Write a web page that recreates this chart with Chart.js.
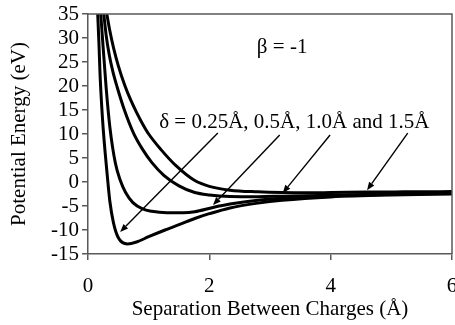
<!DOCTYPE html>
<html>
<head>
<meta charset="utf-8">
<script src="https://cdn.jsdelivr.net/npm/chart.js@4/dist/chart.umd.min.js"></script>
<style>
  html, body { margin: 0; padding: 0; background: #fff; }
  #wrap { width: 455px; height: 325px; overflow: hidden; }
</style>
</head>
<body>
<div id="wrap"><canvas id="chart" width="455" height="325"></canvas></div>
<script>
// values (x in Å, y in eV)
const seriesLabels = ["δ = 0.25Å", "δ = 0.5Å", "δ = 1.0Å", "δ = 1.5Å"];

const xA = [0.16, 0.18, 0.2, 0.24, 0.28, 0.32, 0.36, 0.42, 0.5, 0.65, 0.8, 1.0, 1.27, 1.5, 1.76, 2.0, 2.34, 2.8, 3.2, 4.0, 5.0, 6.0];
const yA = [35, 29, 22, 13, 6.5, 1, -4, -8.5, -11.6, -12.9, -12.5, -11.4, -10, -8.9, -7.6, -6.6, -5.4, -4.4, -3.8, -3.1, -2.7, -2.5];

const xB = [0.21, 0.25, 0.3, 0.36, 0.45, 0.53, 0.62, 0.74, 0.9, 1.05, 1.3, 1.57, 1.76, 2.06, 2.34, 2.8, 3.2, 4.0, 5.0, 6.0];
const yB = [35, 28, 19.5, 11.5, 4, 0.4, -2.2, -4.3, -5.6, -6.1, -6.4, -6.4, -6.2, -5.3, -4.6, -3.8, -3.4, -2.9, -2.6, -2.4];

const xC = [0.26, 0.3, 0.35, 0.41, 0.48, 0.6, 0.75, 0.9, 1.05, 1.25, 1.5, 1.76, 2.0, 2.34, 2.8, 3.2, 4.0, 5.0, 6.0];
const yC = [35, 30.5, 26.5, 23, 19.8, 15, 10.2, 6.8, 4.1, 1.4, -0.8, -2.2, -2.7, -3.0, -3.05, -2.95, -2.75, -2.5, -2.3];

const xD = [0.31, 0.36, 0.42, 0.5, 0.61, 0.7, 0.8, 0.9, 1.0, 1.2, 1.45, 1.76, 2.0, 2.34, 2.8, 3.2, 3.6, 4.0, 4.6, 5.2, 6.0];
const yD = [35, 31.5, 28, 24.2, 20, 17.2, 14.5, 12.1, 10, 6.8, 3.4, 0.3, -0.9, -1.7, -2.05, -2.2, -2.25, -2.2, -2.1, -2.05, -2.0];

const xTicks = [0, 2, 4, 6];
const yTicks = [-15, -10, -5, 0, 5, 10, 15, 20, 25, 30, 35];

// annotation arrows, in data units: tail near the text, head on the curve
const arrowFrom = [[2.14, 10.2], [3.16, 9.8], [3.99, 9.8], [5.27, 10.2]];
const arrowTo = [[0.53, -10.4], [2.06, -4.8], [3.21, -2.3], [4.6, -1.7]];
const noteText = "δ = 0.25Å, 0.5Å, 1.0Å and 1.5Å";
const notePos = [3.4, 12.3];
const betaText = "β = -1";
const betaPos = [3.2, 28.1];

const FONT = "'Liberation Serif', 'Times New Roman', serif";

function pts(xs, ys) {
  return xs.map((x, i) => ({ x: x, y: ys[i] }));
}

const notes = {
  id: "notes",
  afterDatasetsDraw(chart) {
    const { ctx, chartArea, scales } = chart;
    const sx = scales.x, sy = scales.y;
    ctx.save();
    // top and right frame lines
    ctx.strokeStyle = "#595959";
    ctx.lineWidth = 1.5;
    ctx.beginPath();
    ctx.moveTo(chartArea.left, chartArea.top);
    ctx.lineTo(chartArea.right, chartArea.top);
    ctx.lineTo(chartArea.right, chartArea.bottom);
    ctx.stroke();

    ctx.fillStyle = "#000";
    ctx.font = "21px " + FONT;
    ctx.textAlign = "center";
    ctx.textBaseline = "middle";
    ctx.fillText(betaText, sx.getPixelForValue(betaPos[0]), sy.getPixelForValue(betaPos[1]));
    ctx.fillText(noteText, sx.getPixelForValue(notePos[0]), sy.getPixelForValue(notePos[1]));

    ctx.strokeStyle = "#000";
    ctx.lineWidth = 1.4;
    arrowFrom.forEach((f, i) => {
      const x0 = sx.getPixelForValue(f[0]), y0 = sy.getPixelForValue(f[1]);
      const x1 = sx.getPixelForValue(arrowTo[i][0]), y1 = sy.getPixelForValue(arrowTo[i][1]);
      const a = Math.atan2(y1 - y0, x1 - x0);
      const len = 8, w = 3.2;
      const bx = x1 - len * Math.cos(a), by = y1 - len * Math.sin(a);
      ctx.beginPath();
      ctx.moveTo(x0, y0);
      ctx.lineTo(bx, by);
      ctx.stroke();
      ctx.beginPath();
      ctx.moveTo(x1, y1);
      ctx.lineTo(bx + w * Math.sin(a), by - w * Math.cos(a));
      ctx.lineTo(bx - w * Math.sin(a), by + w * Math.cos(a));
      ctx.closePath();
      ctx.fill();
    });
    ctx.restore();
  }
};

const series = [pts(xA, yA), pts(xB, yB), pts(xC, yC), pts(xD, yD)];

new Chart(document.getElementById("chart"), {
  type: "line",
  data: {
    datasets: series.map((d, i) => ({
      label: seriesLabels[i],
      data: d,
      borderColor: "#000",
      borderWidth: 3,
      pointRadius: 0,
      fill: false,
      cubicInterpolationMode: "monotone"
    }))
  },
  options: {
    responsive: false,
    animation: false,
    events: [],
    layout: { padding: { top: 14, right: 3, left: 0, bottom: 0 } },
    plugins: { legend: { display: false }, tooltip: { enabled: false } },
    scales: {
      x: {
        type: "linear",
        min: 0,
        max: 6,
        afterBuildTicks: (s) => { s.ticks = xTicks.map(v => ({ value: v })); },
        afterFit: (s) => { s.paddingLeft = 0; s.paddingRight = 0; s.height = 71; },
        ticks: { color: "#000", font: { family: FONT, size: 21 }, padding: 14, maxRotation: 0, autoSkip: false },
        grid: { drawOnChartArea: false, tickLength: 6, color: "#595959", lineWidth: 1.5 },
        border: { color: "#595959", width: 1.5 },
        title: { display: true, text: "Separation Between Charges (Å)", color: "#000",
                 font: { family: FONT, size: 21 }, padding: { top: 0, bottom: 3 } }
      },
      y: {
        min: -15,
        max: 35,
        afterBuildTicks: (s) => { s.ticks = yTicks.map(v => ({ value: v })); },
        afterFit: (s) => { s.paddingTop = 0; s.paddingBottom = 0; s.width = 88; },
        ticks: { color: "#000", font: { family: FONT, size: 21 }, padding: 3, autoSkip: false },
        grid: { drawOnChartArea: false, tickLength: 6, color: "#595959", lineWidth: 1.5 },
        border: { color: "#595959", width: 1.5 },
        title: { display: true, text: "Potential Energy (eV)", color: "#000",
                 font: { family: FONT, size: 21 }, padding: { top: 7, bottom: 0 } }
      }
    }
  },
  plugins: [notes]
});
</script>
</body>
</html>
